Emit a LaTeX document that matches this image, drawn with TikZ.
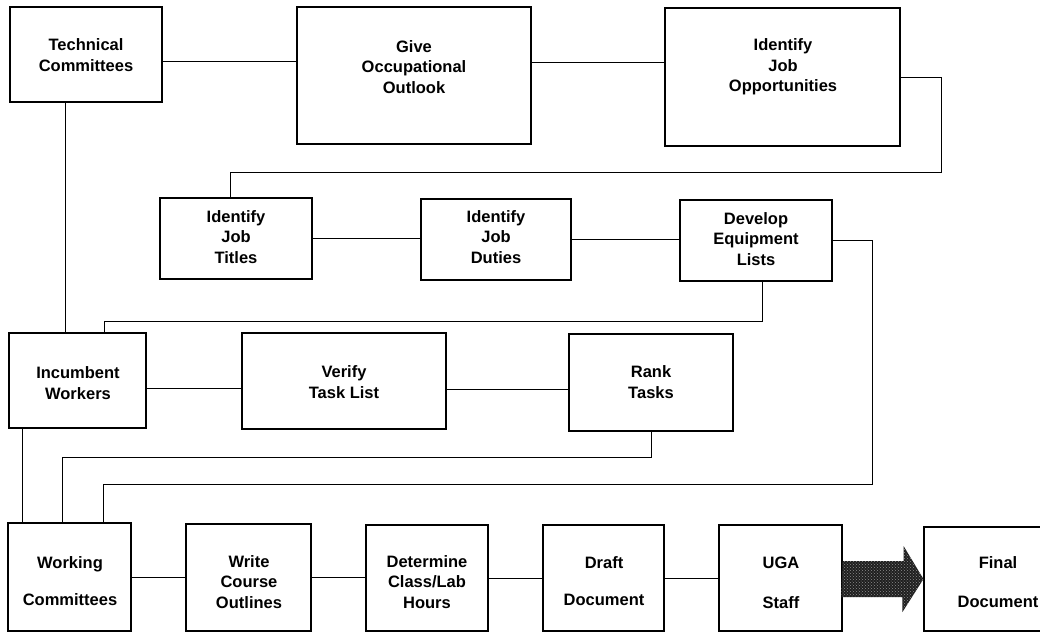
\documentclass[tikz,border=0pt]{standalone}
\usepackage{fontspec}
\setmainfont{Liberation Sans}
\usetikzlibrary{patterns}
\begin{document}
\begin{tikzpicture}[x=1pt,y=-1pt,
  box/.style={draw, line width=1.1pt, inner sep=0pt},
  conn/.style={line width=1pt},
  lbl/.style={align=center, inner sep=0pt, font=\fontsize{16.5}{20.5}\selectfont\bfseries},
  bigarrow/.style={preaction={fill=black!88}, pattern=crosshatch dots, pattern color=black!45}]
\useasboundingbox (0,0) rectangle (1040,632);
\clip (0,0) rectangle (1040,632);
% boxes: centre at ((x1+x2)/2,(y1+y2)/2), size (x2-x1)x(y2-y1)
\node[box, minimum width=152pt, minimum height=95pt]  (tc)    at (86,54.5) {};
\node[box, minimum width=234pt, minimum height=137pt] (give)  at (414,75.5) {};
\node[box, minimum width=235pt, minimum height=138pt] (ijo)   at (782.5,77) {};
\node[box, minimum width=152pt, minimum height=81pt]  (ijt)   at (236,238.5) {};
\node[box, minimum width=150pt, minimum height=81pt]  (ijd)   at (496,239.5) {};
\node[box, minimum width=152pt, minimum height=81pt]  (dev)   at (756,240.5) {};
\node[box, minimum width=137pt, minimum height=95pt]  (inc)   at (77.5,380.5) {};
\node[box, minimum width=204pt, minimum height=96pt]  (ver)   at (344,381) {};
\node[box, minimum width=164pt, minimum height=97pt]  (rank)  at (651,382.5) {};
\node[box, minimum width=123pt, minimum height=108pt] (work)  at (69.5,577) {};
\node[box, minimum width=125pt, minimum height=107pt] (write) at (248.5,577.5) {};
\node[box, minimum width=122pt, minimum height=106pt] (det)   at (427,578) {};
\node[box, minimum width=121pt, minimum height=106pt] (draft) at (603.5,578) {};
\node[box, minimum width=123pt, minimum height=106pt] (uga)   at (780.5,578) {};
\node[box, minimum width=124pt, minimum height=104pt] (final) at (986,579) {};
% labels
\node[lbl] (tct) at (86,55) {Technical\\Committees};
\node[lbl] (givet) at (414,67) {Give\\Occupational\\Outlook};
\node[lbl] (ijot) at (783,67) {Identify\\Job\\Opportunities};
\node[lbl] (ijtt) at (236,237) {Identify\\Job\\Titles};
\node[lbl] (ijdt) at (496,237) {Identify\\Job\\Duties};
\node[lbl] (devt) at (756,239) {Develop\\Equipment\\Lists};
\node[lbl] (inct) at (78,383) {Incumbent\\Workers};
\node[lbl] (vert) at (344,382) {Verify\\Task List};
\node[lbl] (rankt) at (651,382) {Rank\\Tasks};
\node[lbl] (workt) at (70,581) {Working\\[17pt]Committees};
\node[lbl] (writet) at (249,582) {Write\\Course\\Outlines};
\node[lbl] (dett) at (427,582) {Determine\\Class/Lab\\Hours};
\node[lbl] (draftt) at (604,581) {Draft\\[17pt]Document};
\node[lbl] (ugat) at (781,583) {UGA\\[19pt]Staff};
\node[lbl] (finalt) at (998,582) {Final\\[18pt]Document};
% connectors
\draw[conn] ([yshift=-6.5pt]tc.east) -- ([yshift=-6.5pt]tc.east -| give.west);
\draw[conn] ([yshift=13.5pt]give.east) -- ([yshift=13.5pt]give.east -| ijo.west);
\draw[conn] (ijo.east) -- ++(41,0) -- ++(0,95) -| ([xshift=-6pt]ijt.north);
\draw[conn] (ijt.east) -- (ijt.east -| ijd.west);
\draw[conn] (ijd.east) -- (ijd.east -| dev.west);
\draw[conn] (dev.east) -- ++(40,0) -- ++(0,243.5) -| ([xshift=33.5pt]work.north);
\draw[conn] ([xshift=6pt]dev.south) -- ++(0,40) -| ([xshift=26.5pt]inc.north);
\draw[conn] ([xshift=-21pt]tc.south) -- ([xshift=-21pt]tc.south |- inc.north);
\draw[conn] ([yshift=-7.5pt]inc.east) -- ([yshift=-7.5pt]inc.east -| ver.west);
\draw[conn] ([yshift=-8pt]ver.east) -- ([yshift=-8pt]ver.east -| rank.west);
\draw[conn] (rank.south) -- ++(0,26) -| ([xshift=-7.5pt]work.north);
\draw[conn] ([xshift=-55.5pt]inc.south) -- ([xshift=-55.5pt]inc.south |- work.north);
\draw[conn] (work.east) -- (work.east -| write.west);
\draw[conn] (write.east) -- (write.east -| det.west);
\draw[conn] (det.east) -- (det.east -| draft.west);
\draw[conn] (draft.east) -- (draft.east -| uga.west);
% big arrow
\path[bigarrow] (uga.east) ++(0,-17) -- ++(61,0) -- ++(0,-15) -- (final.west) -- ++(-21,33) -- ++(0,-15) -- ++(-61,0) -- cycle;
\end{tikzpicture}
\end{document}
